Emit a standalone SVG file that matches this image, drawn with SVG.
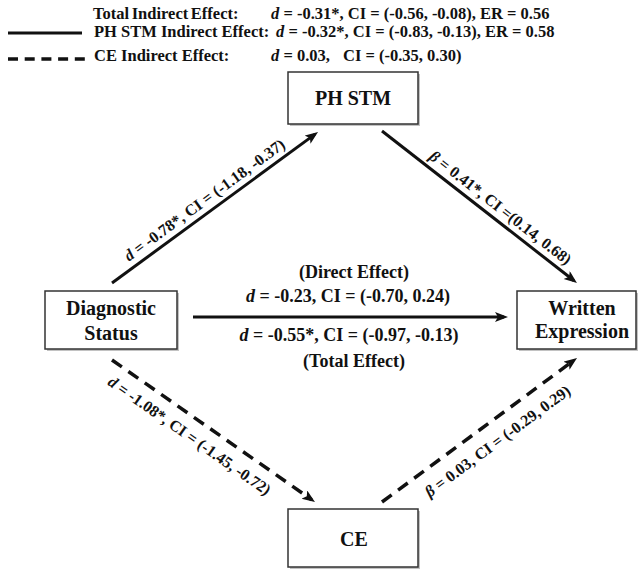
<svg xmlns="http://www.w3.org/2000/svg" width="638" height="570" viewBox="0 0 638 570">
<defs>
<marker id="ah" markerUnits="userSpaceOnUse" markerWidth="14" markerHeight="12" refX="9" refY="5" orient="auto"><path d="M0,0 L13,5 L0,10 L3,5 z" fill="#111"/></marker>
<style>
text{font-family:"Liberation Serif","Times New Roman",serif;font-weight:bold;fill:#111}
.it{font-style:italic}
.lg{font-size:16.5px}
.node{font-size:20px;text-anchor:middle}
.lab{font-size:16px;text-anchor:middle}
.mid{font-size:18px;text-anchor:middle}
.box{fill:#fff;stroke:#333;stroke-width:1.5}
.shadow{fill:#999;opacity:.6}
.solid{stroke:#111;stroke-width:3;fill:none}
.dash{stroke:#111;stroke-width:3.5;fill:none;stroke-dasharray:12 8}
</style>
</defs>
<rect width="638" height="570" fill="#fff"/>
<g id="legend">
<line x1="8" y1="33" x2="82" y2="33" class="solid"/>
<line x1="8" y1="59" x2="85" y2="59" class="dash" style="stroke-dasharray:10 6.7"/>
<text class="lg" x="93" y="19" style="word-spacing:-1.5px">Total Indirect Effect:</text>
<text class="lg" x="271" y="19"><tspan class="it">d</tspan> = -0.31*, CI = (-0.56, -0.08), ER = 0.56</text>
<text class="lg" x="94" y="37">PH STM Indirect Effect:</text>
<text class="lg" x="276" y="37"><tspan class="it">d</tspan> = -0.32*, CI = (-0.83, -0.13), ER = 0.58</text>
<text class="lg" x="94" y="61">CE Indirect Effect:</text>
<text class="lg" x="271" y="61"><tspan class="it">d</tspan> = 0.03,</text>
<text class="lg" x="343" y="61">CI = (-0.35, 0.30)</text>
</g>
<g id="connectors">
<line class="solid" x1="112" y1="283" x2="314.8" y2="134.4" marker-end="url(#ah)"/>
<line class="solid" x1="382" y1="131" x2="573.8" y2="280.5" marker-end="url(#ah)"/>
<line class="solid" x1="193" y1="317" x2="504" y2="317" marker-end="url(#ah)"/>
<line class="dash" x1="112" y1="360" x2="311.7" y2="499.7" marker-end="url(#ah)"/>
<line class="dash" x1="382" y1="502" x2="573.8" y2="360.4" marker-end="url(#ah)"/>
<text class="lab" transform="translate(215,207.5) rotate(-36.2)" x="-4" y="-7"><tspan class="it">d</tspan> = -0.78*, CI = (-1.18, -0.37)</text>
<text class="lab" transform="translate(479.5,207) rotate(37.9)" x="17" y="-7"><tspan class="it">β</tspan> = 0.41*, CI =(0.14, 0.68)</text>
<text class="lab" transform="translate(213.5,431) rotate(35)" x="-17" y="23"><tspan class="it">d</tspan> = -1.08*, CI = (-1.45, -0.72)</text>
<text class="lab" transform="translate(479.5,430) rotate(-36.4)" x="8" y="25"><tspan class="it">β</tspan> = 0.03, CI = (-0.29, 0.29)</text>
<text class="mid" x="354" y="278">(Direct Effect)</text>
<text class="mid" x="348" y="302"><tspan class="it">d</tspan> = -0.23, CI = (-0.70, 0.24)</text>
<text class="mid" x="349" y="341"><tspan class="it">d</tspan> = -0.55*, CI = (-0.97, -0.13)</text>
<text class="mid" x="354" y="367">(Total Effect)</text>
</g>
<g id="ph-stm">
<rect class="shadow" x="290" y="74" width="130" height="52"/>
<rect class="box" x="288" y="72" width="130" height="52"/>
<text class="node" x="353" y="105">PH STM</text>
</g>
<g id="diagnostic-status">
<rect class="shadow" x="47" y="293" width="132" height="58"/>
<rect class="box" x="45" y="291" width="132" height="58"/>
<text class="node" x="111" y="315">Diagnostic</text>
<text class="node" x="111" y="340">Status</text>
</g>
<g id="written-expression">
<rect class="shadow" x="519" y="293" width="119" height="58"/>
<rect class="box" x="517" y="291" width="119" height="58"/>
<text class="node" x="582" y="315">Written</text>
<text class="node" x="582" y="338">Expression</text>
</g>
<g id="ce">
<rect class="shadow" x="290" y="511" width="130" height="58"/>
<rect class="box" x="288" y="509" width="130" height="58"/>
<text class="node" x="354" y="546">CE</text>
</g>
</svg>
